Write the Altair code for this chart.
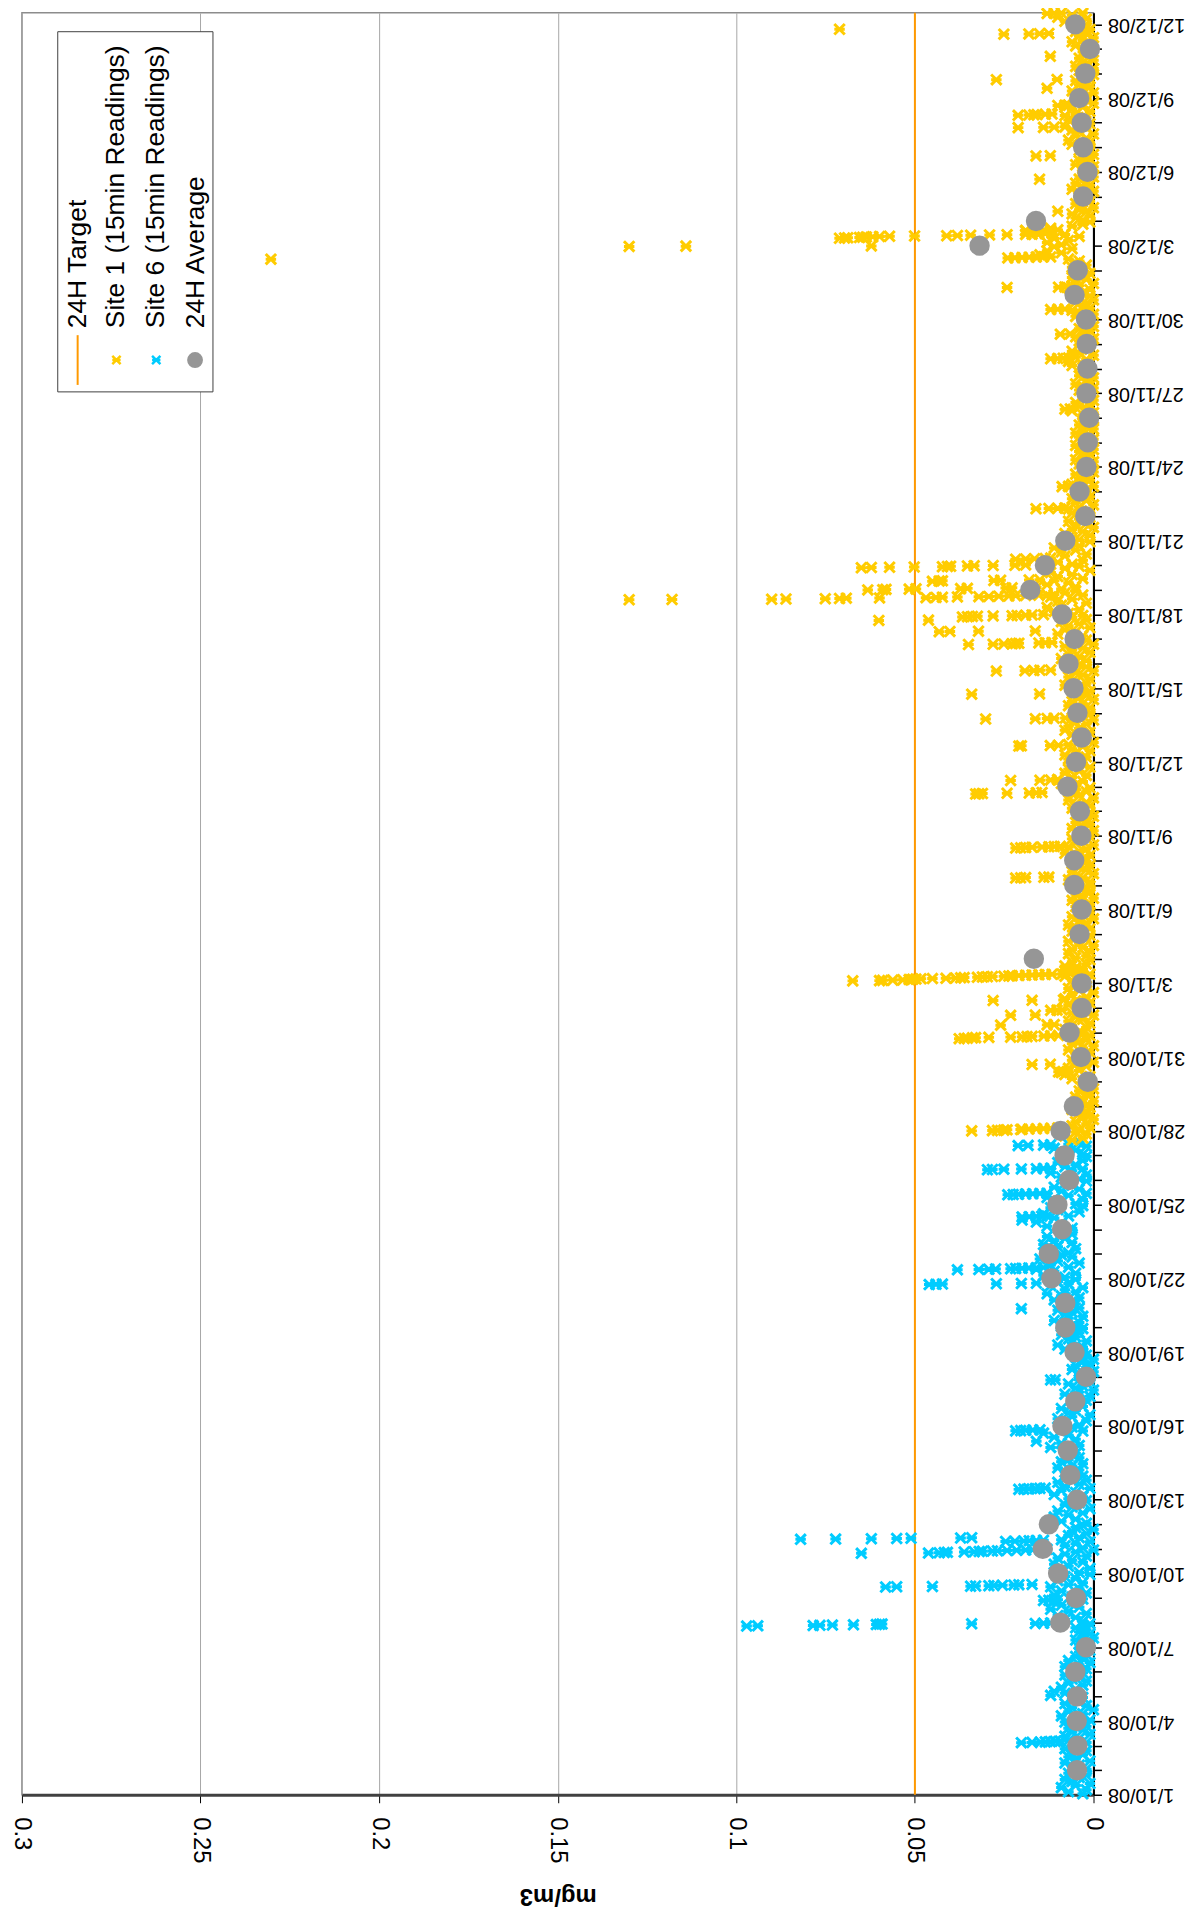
import altair as alt
import pandas as pd

DAY_MS = 86400000
T0 = int(pd.Timestamp("2008-10-01", tz="UTC").value // 10**6)
END_DAYS = 72.47

TARGET = [0.05]

# 24H averages, one per day (day index from 1/10/08)
avg_days = list(range(1, 73))
avg_values = [0.0046, 0.0045, 0.0047, 0.0046, 0.0051, 0.0021, 0.0093, 0.0049, 0.0099, 0.0142,
              0.0125, 0.0046, 0.0065, 0.0072, 0.0087, 0.0051, 0.0021, 0.0053, 0.0079, 0.0079,
              0.0118, 0.0125, 0.0088, 0.0101, 0.0068, 0.0081, 0.0092, 0.0055, 0.0016, 0.0035,
              0.0067, 0.0033, 0.0033, 0.0167, 0.0039, 0.0033, 0.0054, 0.0054, 0.0034, 0.0038,
              0.0073, 0.0049, 0.0033, 0.0045, 0.0056, 0.0070, 0.0053, 0.0088, 0.0177, 0.0136,
              0.0079, 0.0023, 0.0039, 0.0020, 0.0016, 0.0012, 0.0020, 0.0017, 0.0019, 0.0021,
              0.0053, 0.0044, 0.0319, 0.0161, 0.0029, 0.0017, 0.0029, 0.0033, 0.0040, 0.0023,
              0.0010, 0.0051]

# Site 6 readings (µg/m3, every 2 h) starting 1/10/08
site6_first_day = 0
site6_band = [
    [3, 7, 2, 9, 5, 1, 6, 8, 4, 2, 7, 5],
    [2, 6, 4, 8, 1, 5, 7, 3, 6, 2, 8, 4],
    [5, 2, 7, 4, 8, 1, 6, 3, 7, 2, 5, 8],
    [1, 5, 9, 3, 7, 0, 6, 2, 8, 4, 6, 3],
    [12, 8, 11, 5, 9, 3, 7, 2, 6, 4, 8, 3],
    [6, 2, 8, 4, 1, 7, 3, 5, 2, 4, 1, 3],
    [2, 4, 1, 5, 0, 3, 1, 4, 2, 5, 3, 1],
    [3, 8, 5, 10, 2, 7, 12, 4, 9, 6, 11, 3],
    [6, 11, 2, 9, 4, 12, 7, 3, 10, 5, 8, 1],
    [4, 9, 1, 7, 11, 3, 6, 10, 2, 8, 5, 0],
    [3, 8, 5, 1, 9, 4, 7, 2, 6, 0, 5, 3],
    [2, 9, 5, 11, 7, 3, 10, 1, 6, 8, 4, 2],
    [7, 3, 11, 5, 9, 1, 8, 4, 10, 2, 6, 3],
    [5, 8, 4, 10, 6, 3, 9, 7, 4, 8, 5, 6],
    [6, 12, 4, 9, 16, 5, 11, 7, 14, 3, 8, 6],
    [4, 8, 2, 10, 6, 1, 7, 5, 9, 3, 6, 4],
    [2, 6, 1, 8, 4, 0, 5, 3, 7, 1, 4, 2],
    [1, 4, 0, 6, 2, 5, 1, 3, 0, 4, 2, 3],
    [4, 8, 3, 10, 6, 2, 7, 5, 9, 4, 6, 3],
    [5, 9, 4, 11, 7, 3, 8, 6, 10, 4, 7, 5],
    [6, 11, 4, 9, 13, 5, 8, 3, 12, 7, 10, 5],
    [8, 14, 5, 11, 16, 7, 12, 4, 10, 15, 6, 9],
    [7, 12, 5, 10, 14, 6, 11, 8, 13, 6, 9, 7],
    [6, 13, 9, 16, 20, 11, 7, 14, 4, 10, 12, 3],
    [5, 10, 3, 13, 7, 2, 9, 4, 11, 6, 8, 2],
    [4, 9, 2, 12, 6, 3, 8, 5, 10, 3, 7, 2],
    [3, 8, 5, 11, 2, 7, 4],
]
# Site 6 peaks: (day, readings mg/m3, 15 min apart)
site6_peaks = [
    (2.12, [0.0202, 0.0172, 0.0149, 0.0135, 0.0121, 0.0107, 0.0093]),
    (6.86, [0.0971, 0.0940, 0.0785, 0.0766, 0.0731, 0.0672, 0.0608, 0.0599, 0.0592, 0.0341, 0.0163, 0.0140, 0.0120]),
    (7.90, [0.0140, 0.0125, 0.0110, 0.0100]),
    (8.45, [0.0582, 0.0551, 0.0451, 0.0344, 0.0330, 0.0293, 0.0279, 0.0255, 0.0223, 0.0209, 0.0172]),
    (9.82, [0.0650, 0.0462, 0.0432, 0.0418, 0.0409, 0.0362, 0.0334, 0.0320, 0.0311, 0.0283, 0.0269, 0.0242, 0.0215, 0.0190, 0.0170, 0.0150, 0.0130]),
    (10.30, [0.0246, 0.0220, 0.0195, 0.0180, 0.0160, 0.0140]),
    (10.39, [0.0820, 0.0722, 0.0622, 0.0551, 0.0511, 0.0372, 0.0341]),
    (12.42, [0.0209, 0.0195, 0.0181, 0.0163, 0.0150, 0.0135]),
    (14.80, [0.0218, 0.0204, 0.0190, 0.0170, 0.0150]),
    (16.87, [0.0120, 0.0107]),
    (19.77, [0.0202]),
    (20.75, [0.0460, 0.0441, 0.0423, 0.0272, 0.0202, 0.0160]),
    (21.35, [0.0381, 0.0321, 0.0293, 0.0274, 0.0232, 0.0218, 0.0200, 0.0181, 0.0160, 0.0140]),
    (23.50, [0.0200, 0.0180, 0.0160, 0.0145, 0.0130]),
    (24.40, [0.0240, 0.0225, 0.0210, 0.0190, 0.0170, 0.0150, 0.0130]),
    (25.42, [0.0297, 0.0283, 0.0251, 0.0202, 0.0160, 0.0140, 0.0120]),
    (26.40, [0.0211, 0.0183, 0.0140, 0.0120]),
]

# Site 1 readings (µg/m3, every 2 h) from 27/10/08 afternoon
site1_first_day = 26
site1_band = [
    [6, 3, 8, 2, 5],
    [4, 1, 6, 2, 5, 0, 3, 1, 4, 2, 6, 1],
    [2, 4, 0, 3, 5, 1, 2, 4, 0, 3, 1, 2],
    [3, 6, 1, 8, 9, 4, 7, 2, 5, 0, 6, 3],
    [2, 5, 1, 7, 3, 0, 6, 4, 2, 5, 1, 3],
    [4, 8, 2, 6, 1, 7, 3, 5, 0, 6, 2, 4],
    [3, 7, 1, 5, 8, 2, 6, 0, 4, 7, 2, 5],
    [2, 6, 4, 8, 1, 7, 3, 5, 8, 2, 6, 1],
    [5, 2, 7, 1, 6, 3, 0, 4, 7, 2, 5, 1],
    [3, 6, 1, 5, 7, 2, 4, 0, 6, 3, 1, 4],
    [2, 5, 1, 4, 6, 0, 3, 5, 1, 2, 4, 1],
    [4, 1, 7, 3, 5, 0, 6, 2, 4, 1, 5, 2],
    [3, 6, 1, 8, 4, 2, 7, 0, 5, 3, 6, 1],
    [2, 4, 0, 6, 3, 1, 5, 2, 4, 0, 3, 1],
    [3, 6, 1, 5, 2, 7, 0, 4, 6, 2, 5, 1],
    [5, 9, 3, 10, 6, 2, 8, 4, 7, 1, 6, 3],
    [4, 7, 2, 8, 5, 1, 6, 3, 7, 0, 4, 2],
    [3, 6, 1, 8, 4, 7, 2, 5, 0, 6, 3, 1],
    [2, 5, 1, 7, 3, 6, 0, 4, 2, 5, 1, 3],
    [4, 8, 2, 6, 1, 7, 3, 5, 0, 6, 2, 4],
    [5, 2, 9, 4, 7, 1, 6, 3, 8, 0, 5, 2],
    [6, 3, 10, 5, 8, 1, 7, 4, 9, 2, 6, 3],
    [7, 11, 4, 13, 9, 2, 10, 6, 12, 3, 8, 5],
    [9, 5, 13, 7, 11, 3, 10, 6, 12, 1, 8, 4],
    [6, 10, 3, 12, 8, 2, 9, 5, 11, 4, 7, 1],
    [4, 7, 1, 8, 3, 6, 0, 5, 2, 7, 4, 1],
    [3, 6, 1, 7, 4, 0, 5, 2, 6, 1, 4, 2],
    [2, 5, 0, 6, 3, 1, 4, 2, 5, 0, 3, 1],
    [1, 4, 0, 5, 2, 3, 1, 4, 0, 2, 5, 1],
    [2, 0, 4, 1, 5, 3, 0, 2, 4, 1, 3, 0],
    [1, 3, 0, 6, 2, 4, 1, 5, 0, 3, 2, 1],
    [2, 4, 0, 3, 5, 1, 2, 0, 4, 1, 3, 2],
    [3, 6, 1, 7, 2, 5, 0, 4, 6, 1, 3, 2],
    [1, 4, 0, 5, 2, 3, 1, 4, 0, 2, 3, 1],
    [2, 5, 0, 4, 6, 1, 3, 2, 5, 0, 4, 1],
    [3, 6, 1, 7, 4, 0, 5, 2, 6, 3, 1, 4],
    [3, 6, 2, 5, 4, 7, 12, 15, 9, 13, 6, 11],
    [9, 13, 7, 11, 4, 8, 16, 19, 12, 6, 3, 1],
    [3, 5, 1, 6, 2, 4, 0, 3, 5, 1, 2, 4],
    [2, 4, 0, 6, 3, 1, 5, 2, 4, 0, 3, 1],
    [1, 3, 0, 5, 2, 4, 1, 3, 0, 2, 4, 1],
    [3, 6, 1, 7, 2, 5, 0, 4, 6, 2, 3, 1],
    [4, 7, 2, 8, 5, 1, 6, 3, 7, 0, 4, 2],
    [2, 5, 0, 6, 3, 1, 4, 2, 5, 1, 3, 0],
    [1, 4, 0, 5, 2, 3, 0, 4, 1, 2, 3, 1],
    [2, 5, 1, 6, 3, 0, 4, 2, 5, 1, 3, 2],
    [4, 8, 2, 10, 6, 3],
]
site1_peaks = [
    (27.00, [0.0341, 0.0283, 0.0269, 0.0251, 0.0242, 0.0204, 0.0200, 0.0181, 0.0160, 0.0140, 0.0120, 0.0100]),
    (29.40, [0.0098, 0.0085, 0.0070]),
    (29.70, [0.0172, 0.0121]),
    (30.75, [0.0376, 0.0362, 0.0353, 0.0339, 0.0330, 0.0293, 0.0232, 0.0200, 0.0186, 0.0172, 0.0139, 0.0120, 0.0098]),
    (31.30, [0.0260, 0.0130, 0.0110]),
    (31.70, [0.0232, 0.0163]),
    (31.90, [0.0120, 0.0102, 0.0088]),
    (32.30, [0.0281, 0.0172, 0.0084]),
    (33.10, [0.0674, 0.0599, 0.0590, 0.0562, 0.0534, 0.0516, 0.0506, 0.0497, 0.0483, 0.0451, 0.0413, 0.0386, 0.0372, 0.0362,
             0.0325, 0.0311, 0.0297, 0.0283, 0.0251, 0.0237, 0.0228, 0.0209, 0.0190, 0.0172, 0.0153, 0.0135, 0.0116, 0.0088]),
    (33.50, [0.0080, 0.0060, 0.0070, 0.0050, 0.0075, 0.0040, 0.0065, 0.0030]),
    (37.28, [0.0218, 0.0204, 0.0190, 0.0139, 0.0125]),
    (38.50, [0.0218, 0.0204, 0.0190, 0.0172, 0.0144, 0.0125, 0.0110, 0.0093]),
    (40.70, [0.0330, 0.0321, 0.0311, 0.0242, 0.0180, 0.0160, 0.0144]),
    (41.25, [0.0232, 0.0150, 0.0120, 0.0100]),
    (42.65, [0.0209, 0.0202, 0.0121, 0.0098]),
    (43.75, [0.0302, 0.0163, 0.0130, 0.0110, 0.0079]),
    (44.76, [0.0341, 0.0151]),
    (45.70, [0.0272, 0.0192, 0.0167, 0.0150, 0.0120]),
    (46.78, [0.0350, 0.0281, 0.0251, 0.0228, 0.0218, 0.0209, 0.0153, 0.0135, 0.0116]),
    (47.30, [0.0432, 0.0402, 0.0322, 0.0163]),
    (47.76, [0.0601, 0.0462]),
    (47.90, [0.0367, 0.0353, 0.0339, 0.0325, 0.0281, 0.0228, 0.0214, 0.0190, 0.0172, 0.0140]),
    (48.60, [0.1300, 0.1180, 0.0901, 0.0861, 0.0751, 0.0711, 0.0692, 0.0599, 0.0469, 0.0441, 0.0423, 0.0381, 0.0321,
             0.0293, 0.0265, 0.0237, 0.0218, 0.0190, 0.0153, 0.0130, 0.0110]),
    (49.00, [0.0632, 0.0590, 0.0581, 0.0516, 0.0497, 0.0372, 0.0353, 0.0246, 0.0228, 0.0160]),
    (49.35, [0.0451, 0.0432, 0.0423, 0.0279, 0.0260, 0.0180, 0.0150]),
    (49.90, [0.0650, 0.0622, 0.0571, 0.0502, 0.0423, 0.0409, 0.0400, 0.0353, 0.0334, 0.0281, 0.0220, 0.0190]),
    (50.25, [0.0218, 0.0190, 0.0165, 0.0135]),
    (52.30, [0.0161, 0.0125, 0.0100, 0.0080]),
    (53.20, [0.0088, 0.0070]),
    (56.35, [0.0080, 0.0065]),
    (58.40, [0.0120, 0.0100, 0.0085, 0.0070]),
    (59.40, [0.0093, 0.0065]),
    (60.40, [0.0120, 0.0100, 0.0080]),
    (61.30, [0.0242, 0.0098, 0.0080, 0.0060]),
    (62.45, [0.2303]),
    (62.50, [0.0240, 0.0220, 0.0200, 0.0180, 0.0160, 0.0140]),
    (62.97, [0.1300, 0.1141, 0.0622]),
    (63.30, [0.0711, 0.0697, 0.0688, 0.0655, 0.0646, 0.0636, 0.0618, 0.0599, 0.0571, 0.0501, 0.0411, 0.0381, 0.0344,
             0.0291, 0.0242, 0.0190, 0.0172, 0.0153, 0.0135, 0.0116]),
    (63.60, [0.0190, 0.0165, 0.0140, 0.0120, 0.0100]),
    (64.40, [0.0100]),
    (65.70, [0.0151]),
    (66.65, [0.0161, 0.0121]),
    (67.80, [0.0211, 0.0140, 0.0110, 0.0080]),
    (68.30, [0.0211, 0.0181, 0.0167, 0.0158, 0.0135, 0.0116]),
    (68.70, [0.0100, 0.0080, 0.0070]),
    (69.40, [0.0130]),
    (69.75, [0.0272, 0.0102]),
    (70.70, [0.0121]),
    (71.60, [0.0251, 0.0181, 0.0151, 0.0125]),
    (71.80, [0.0711]),
    (72.44, [0.0130, 0.0110, 0.0090]),
]


def readings(first_day, band, peaks, align_first_to_end):
    rows = []
    for i, vals in enumerate(band):
        d = first_day + i
        start = 12 - len(vals) if (i == 0 and align_first_to_end) else 0
        for k, v in enumerate(vals):
            rows.append({"t": T0 + (d + (2 * (start + k) + 1) / 24) * DAY_MS, "v": v / 1000})
    for day, vals in peaks:
        for k, v in enumerate(vals):
            rows.append({"t": T0 + (day + k / 96) * DAY_MS, "v": v})
    return pd.DataFrame(rows)


s6 = readings(site6_first_day, site6_band, site6_peaks, False)
s1 = readings(site1_first_day, site1_band, site1_peaks, True)
avg = pd.DataFrame({"t": [T0 + d * DAY_MS for d in avg_days], "v": avg_values})
tgt = pd.DataFrame({"v": TARGET})

FONT = "Liberation Sans"
STAR = "M-1,-1L1,1M-1,1L1,-1M-1,0L1,0"
YELLOW = "#FFCC00"
CYAN = "#00CCFF"
GREY = "#969696"
ORANGE = "#FF9900"

xscale = alt.Scale(domain=[0, 0.3], reverse=True, nice=False, zero=False)
yscale = alt.Scale(type="utc", domain=[T0, T0 + END_DAYS * DAY_MS], nice=False)

x_axis = alt.Axis(
    orient="bottom", values=[0, 0.05, 0.1, 0.15, 0.2, 0.25, 0.3], format="~g",
    labelAngle=90, labelAlign="left", labelBaseline="middle", labelFontSize=24,
    labelFont=FONT, labelColor="black", labelPadding=14, labelFlush=False,
    tickSize=8, tickColor="black", domainColor="#404040", domainWidth=3,
    grid=True, gridColor="#a6a6a6", gridWidth=1,
    title="mg/m3", titleAngle=180, titleBaseline="bottom", titleFont=FONT,
    titleFontSize=24, titleFontWeight="bold", titleColor="black", titlePadding=20,
)
label_expr = ("(round((datum.value - %d) / 86400000) %% 3 == 0) ? "
              "utcFormat(datum.value, '%%-d/%%-m/%%y') : ''" % T0)
y_axis = alt.Axis(
    orient="right", values=[T0 + d * DAY_MS for d in range(73)], labelExpr=label_expr,
    labelAngle=180, labelAlign="right", labelBaseline="middle", labelFontSize=20,
    labelFont=FONT, labelColor="black", labelPadding=6, labelFlush=False,
    labelOverlap=False, tickSize=8, tickColor="black", tickWidth=1.5,
    domainColor="black", domainWidth=2, grid=False, title=None,
)


def xenc():
    return alt.X("v:Q", scale=xscale, axis=x_axis)


def yenc():
    return alt.Y("t:T", scale=yscale, axis=y_axis)


target_rule = alt.Chart(tgt).mark_rule(color=ORANGE, strokeWidth=2).encode(x=xenc())
site6_pts = alt.Chart(s6).mark_point(shape=STAR, filled=False, color=CYAN, strokeWidth=3,
                                     size=110, opacity=1).encode(x=xenc(), y=yenc())
site1_pts = alt.Chart(s1).mark_point(shape=STAR, filled=False, color=YELLOW, strokeWidth=3,
                                     size=110, opacity=1).encode(x=xenc(), y=yenc())
avg_pts = alt.Chart(avg).mark_circle(color=GREY, size=420, opacity=1).encode(x=xenc(), y=yenc())

one = pd.DataFrame({"a": [0]})
leg_box = alt.Chart(one).mark_rect(fill="white", stroke="#404040", strokeWidth=1).encode(
    x=alt.value(36), x2=alt.value(192), y=alt.value(19), y2=alt.value(381))
leg_line = alt.Chart(one).mark_rule(color=ORANGE, strokeWidth=2).encode(
    x=alt.value(56), y=alt.value(324), y2=alt.value(374))
leg_s1 = alt.Chart(one).mark_point(shape=STAR, filled=False, color=YELLOW, strokeWidth=2.5,
                                   size=70, opacity=1).encode(x=alt.value(95), y=alt.value(349))
leg_s6 = alt.Chart(one).mark_point(shape=STAR, filled=False, color=CYAN, strokeWidth=2.5,
                                   size=70, opacity=1).encode(x=alt.value(135), y=alt.value(349))
leg_avg = alt.Chart(one).mark_circle(color=GREY, size=254, opacity=1).encode(
    x=alt.value(174), y=alt.value(349))

legend_labels = ["24H Target", "Site 1 (15min Readings)", "Site 6 (15min Readings)", "24H Average"]
legend_x = [56, 95, 135, 175]
leg_texts = [
    alt.Chart(one).mark_text(text=lab, angle=270, align="left", baseline="middle",
                             font=FONT, fontSize=26.5, color="black").encode(
        x=alt.value(lx), y=alt.value(317))
    for lab, lx in zip(legend_labels, legend_x)
]

chart = alt.layer(
    target_rule, site6_pts, site1_pts, avg_pts,
    leg_box, leg_line, leg_s1, leg_s6, leg_avg, *leg_texts,
).properties(
    width=1077, height=1791,
    padding={"left": 14, "top": 0, "right": 100, "bottom": 115},
    autosize=alt.AutoSizeParams(type="none"),
).configure_view(stroke="#8c8c8c", strokeWidth=1.5)

chart.save("out.html", embed_options={"renderer": "svg", "actions": False})
